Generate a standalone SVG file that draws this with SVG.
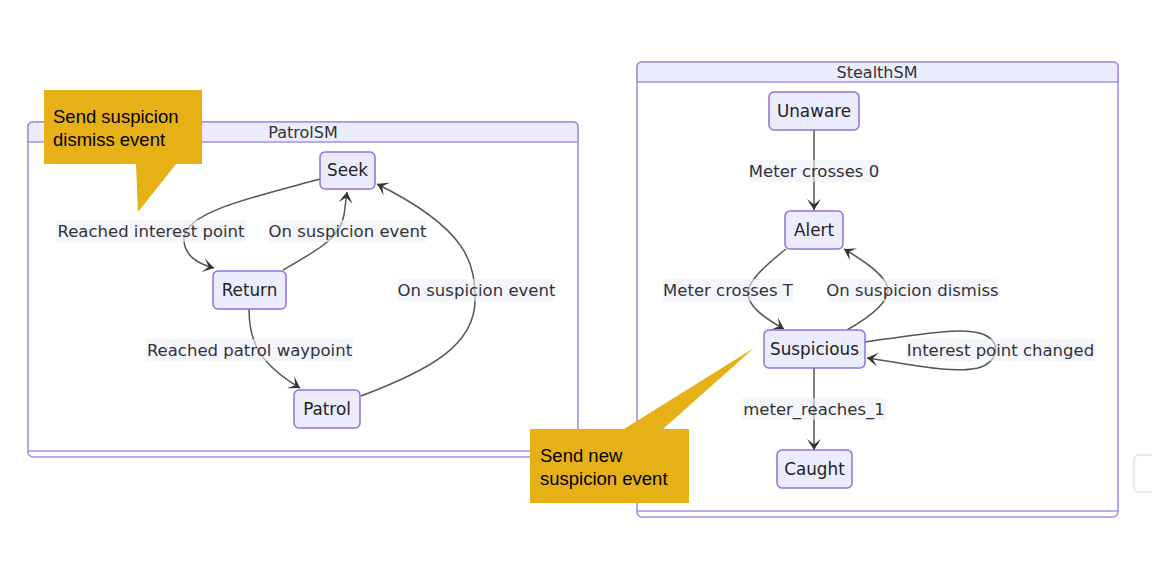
<svg xmlns="http://www.w3.org/2000/svg" width="1152" height="576" viewBox="0 0 1152 576">
<style>
.cl{fill:#fff;stroke:#a88fe0;stroke-width:1.6}
.clt{fill:#ececff;stroke:#a88fe0;stroke-width:1.6}
.ttl{font-family:"DejaVu Sans",Verdana,sans-serif;font-size:16px;fill:#333;text-anchor:middle}
.nd{fill:#ececff;stroke:#9370db;stroke-width:1.5}
.nt{font-family:"DejaVu Sans",Verdana,sans-serif;font-size:16.8px;fill:#222;text-anchor:middle}
.e{fill:none;stroke:#555;stroke-width:1.5;marker-end:url(#barb)}
.lb{fill:#eeeefa;fill-opacity:0.6}
.lt{font-family:"DejaVu Sans",Verdana,sans-serif;font-size:16.5px;fill:#333;text-anchor:middle}
.co{fill:#e6b117}
.ct{font-family:"Liberation Sans",Arial,sans-serif;font-size:18.5px;fill:#000}
</style>
<defs>
<marker id="barb" markerUnits="userSpaceOnUse" markerWidth="22" markerHeight="16" refX="20" refY="8" orient="auto">
<path d="M20,8 L9,15 L14.5,8 L9,1 Z" fill="#333"/>
</marker>
</defs>
<rect width="1152" height="576" fill="#fff"/>

<g id="cluster-PatrolSM">
<rect class="cl" x="28" y="122" width="550" height="335" rx="5"/>
<line x1="28" y1="451" x2="578" y2="451" stroke="#a88fe0" stroke-width="1.6"/>
<path class="clt" d="M28,142 L28,127 Q28,122 33,122 L573,122 Q578,122 578,127 L578,142 Z"/>
<text class="ttl" x="303" y="138">PatrolSM</text>
</g>

<g id="cluster-StealthSM">
<rect class="cl" x="637" y="62" width="481" height="455" rx="5"/>
<line x1="637" y1="511" x2="1118" y2="511" stroke="#a88fe0" stroke-width="1.6"/>
<path class="clt" d="M637,82 L637,67 Q637,62 642,62 L1113,62 Q1118,62 1118,67 L1118,82 Z"/>
<text class="ttl" x="877" y="78">StealthSM</text>
</g>

<g id="connectors">
<path class="e" d="M320,179 C250,198 186,212 184,238 C183,255 198,264 214,268"/>
<path class="e" d="M283,270 C318,250 340,238 344,215 L347,192"/>
<path class="e" d="M249,309 C249,345 262,365 300,388"/>
<path class="e" d="M361,396 C430,370 475,345 475,300 C475,265 470,230 377,184"/>
<path class="e" d="M814,130 L814,210"/>
<path class="e" d="M786,249 C762,268 748,282 748,293 C748,307 765,318 784,329"/>
<path class="e" d="M847,330 C868,318 888,303 888,290 C888,277 866,262 844,249"/>
<path class="e" d="M865,342 C920,334 965,326 985,335 C1002,344 998,362 978,368 C950,374 910,364 867,358"/>
<path class="e" d="M814,368 L814,450"/>
</g>

<g id="edge-labels">
<rect class="lb" x="56" y="220" width="190" height="22"/>
<text class="lt" x="151" y="237">Reached interest point</text>
<rect class="lb" x="269" y="220" width="157" height="22"/>
<text class="lt" x="347.5" y="237">On suspicion event</text>
<rect class="lb" x="146" y="339" width="207" height="22"/>
<text class="lt" x="249.5" y="356">Reached patrol waypoint</text>
<rect class="lb" x="398" y="279" width="157" height="22"/>
<text class="lt" x="476.5" y="296">On suspicion event</text>
<rect class="lb" x="750" y="160" width="129" height="22"/>
<text class="lt" x="814" y="177">Meter crosses 0</text>
<rect class="lb" x="663" y="279" width="130" height="22"/>
<text class="lt" x="728" y="296">Meter crosses T</text>
<rect class="lb" x="828" y="279" width="169" height="22"/>
<text class="lt" x="912.5" y="296">On suspicion dismiss</text>
<rect class="lb" x="906" y="339" width="189" height="22"/>
<text class="lt" x="1000.5" y="356">Interest point changed</text>
<rect class="lb" x="742" y="398" width="144" height="22"/>
<text class="lt" x="814" y="415">meter_reaches_1</text>
</g>

<g id="node-Seek"><rect class="nd" x="320" y="152" width="55" height="37" rx="5"/><text class="nt" x="347.5" y="176">Seek</text></g>
<g id="node-Return"><rect class="nd" x="213" y="271" width="73" height="38" rx="5"/><text class="nt" x="249.5" y="296">Return</text></g>
<g id="node-Patrol"><rect class="nd" x="294" y="390" width="66" height="38" rx="5"/><text class="nt" x="327" y="415">Patrol</text></g>
<g id="node-Unaware"><rect class="nd" x="769" y="92" width="90" height="38" rx="5"/><text class="nt" x="814" y="117">Unaware</text></g>
<g id="node-Alert"><rect class="nd" x="785" y="211" width="58" height="38" rx="5"/><text class="nt" x="814" y="236">Alert</text></g>
<g id="node-Suspicious"><rect class="nd" x="764" y="330" width="101" height="38" rx="5"/><text class="nt" x="814.5" y="355">Suspicious</text></g>
<g id="node-Caught"><rect class="nd" x="777" y="450" width="75" height="38" rx="5"/><text class="nt" x="814.5" y="475">Caught</text></g>

<g id="callout-dismiss">
<path class="co" d="M44,90 L202,90 L202,164 L176,164 L138,212 L136,164 L44,164 Z"/>
<text class="ct" x="53" y="123">Send suspicion</text>
<text class="ct" x="53" y="146">dismiss event</text>
</g>

<g id="callout-new">
<path class="co" d="M530,429 L624,429 L754,348 L663,429 L689,429 L689,503 L530,503 Z"/>
<text class="ct" x="540" y="462">Send new</text>
<text class="ct" x="540" y="485">suspicion event</text>
</g>

<rect x="1134" y="455" width="30" height="37" rx="5" fill="none" stroke="#e4e4e4" stroke-width="1.5"/>
</svg>
